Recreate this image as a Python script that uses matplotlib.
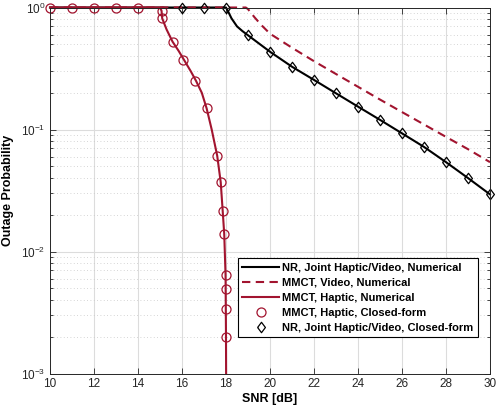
"""Outage probability vs SNR (NR vs MMCT) を描画するスクリプト。"""
import matplotlib
matplotlib.use("Agg")
import matplotlib.pyplot as plt
from matplotlib.ticker import LogLocator, FixedLocator, NullFormatter

plt.rcParams["font.family"] = ["Liberation Sans", "DejaVu Sans"]
plt.rcParams["mathtext.default"] = "regular"

RED = "#A2142F"

# NR, Joint Haptic/Video, Numerical
nr_snr = [10, 18, 18.1, 18.25, 18.5, 18.75, 19, 20, 21, 22, 23, 24, 25, 26, 27, 28, 29, 30]
nr_out = [1, 1, 0.925, 0.815, 0.70, 0.64, 0.592, 0.434, 0.327, 0.255, 0.198, 0.154,
          0.120, 0.093, 0.072, 0.054, 0.040, 0.0294]

# MMCT, Video, Numerical
video_snr = [10, 18.9, 19.0, 19.3, 19.6, 20, 21, 22, 23, 24, 25, 26, 27, 28, 29, 30]
video_out = [1, 1, 0.97, 0.83, 0.72, 0.61, 0.468, 0.363, 0.285, 0.224, 0.176, 0.139,
             0.110, 0.087, 0.069, 0.054]

# MMCT, Haptic, Numerical
hap_snr = [10, 15.0, 15.07, 15.1, 15.3, 15.57, 15.85, 16.1, 16.4, 16.64, 16.9, 17.12,
           17.35, 17.6, 17.76, 17.85, 17.92, 17.98, 18.0, 18.005]
hap_out = [1, 1, 0.94, 0.815, 0.66, 0.525, 0.44, 0.37, 0.30, 0.25, 0.20, 0.149,
           0.10, 0.061, 0.037, 0.0215, 0.0139, 0.0064, 0.002, 0.001]

# MMCT, Haptic, Closed-form
hap_cf_snr = [10, 11, 12, 13, 14, 15.07, 15.1, 15.57, 16.06, 16.6, 17.12, 17.6, 17.76,
              17.85, 17.92, 17.98, 17.98, 18.0, 18.0]
hap_cf_out = [1, 1, 1, 1, 1, 0.94, 0.815, 0.525, 0.37, 0.25, 0.149, 0.061, 0.037,
              0.0215, 0.0139, 0.0064, 0.0049, 0.0034, 0.0020]

# NR, Joint Haptic/Video, Closed-form
nr_cf_snr = [16, 17, 18, 19, 20, 21, 22, 23, 24, 25, 26, 27, 28, 29, 30]
nr_cf_out = [1, 1, 1, 0.592, 0.434, 0.327, 0.255, 0.198, 0.154, 0.120, 0.093, 0.072,
             0.054, 0.040, 0.0294]

x_ticks = [10, 12, 14, 16, 18, 20, 22, 24, 26, 28, 30]

# MATLAB 風の縦長ダイヤ
DIAMOND = [(-0.75, 0), (0, 1), (0.75, 0), (0, -1), (-0.75, 0)]


def main():
    fig = plt.figure(figsize=(4.97, 4.17), dpi=100)
    ax = fig.add_axes([0.1006, 0.1043, 0.8853, 0.8777])

    ax.plot(nr_snr, nr_out, color="black", lw=1.5, clip_on=False,
            label="NR, Joint Haptic/Video, Numerical")
    ax.plot(video_snr, video_out, color=RED, lw=1.5, ls=(0, (4, 2.6)), clip_on=False,
            label="MMCT, Video, Numerical")
    ax.plot(hap_snr, hap_out, color=RED, lw=1.5, clip_on=False,
            label="MMCT, Haptic, Numerical")
    ax.plot(hap_cf_snr, hap_cf_out, ls="none", marker="o", ms=6.5, mfc="none",
            mec=RED, mew=0.9, clip_on=False, label="MMCT, Haptic, Closed-form")
    ax.plot(nr_cf_snr, nr_cf_out, ls="none", marker=DIAMOND, ms=7.5, mfc="none",
            mec="black", mew=0.9, clip_on=False,
            label="NR, Joint Haptic/Video, Closed-form")

    ax.set_yscale("log")
    ax.set_xlim(10, 30)
    ax.set_ylim(1e-3, 1)
    ax.xaxis.set_major_locator(FixedLocator(x_ticks))
    ax.yaxis.set_major_locator(LogLocator(base=10, numticks=10))
    ax.yaxis.set_minor_locator(LogLocator(base=10, subs=range(2, 10), numticks=10))
    ax.yaxis.set_minor_formatter(NullFormatter())

    ax.grid(True, which="major", color="#dcdcdc", lw=0.8, ls="-")
    ax.grid(True, which="minor", axis="y", color="#c8c8c8", lw=0.6, ls=(0, (1, 3)))
    ax.set_axisbelow(True)

    ax.tick_params(which="both", direction="in", top=True, right=True,
                   colors="#262626", labelsize=8.5, width=0.6)
    ax.tick_params(which="major", length=4)
    ax.tick_params(which="minor", length=2)
    for s in ax.spines.values():
        s.set_color("#262626")
        s.set_linewidth(0.7)

    ax.set_xlabel("SNR [dB]", fontsize=9, fontweight="bold", labelpad=2)
    ax.set_ylabel("Outage Probability", fontsize=9, fontweight="bold", labelpad=5)

    leg = ax.legend(loc="lower right", bbox_to_anchor=(0.973, 0.0997),
                    borderaxespad=0, prop={"weight": "bold", "size": 8},
                    handlelength=3.3, handletextpad=0.3, labelspacing=0.45,
                    borderpad=0.4, fancybox=False, framealpha=1)
    leg.get_frame().set_edgecolor("black")
    leg.get_frame().set_linewidth(0.8)

    fig.savefig("out.png", dpi=100)
    plt.close(fig)


if __name__ == "__main__":
    main()
